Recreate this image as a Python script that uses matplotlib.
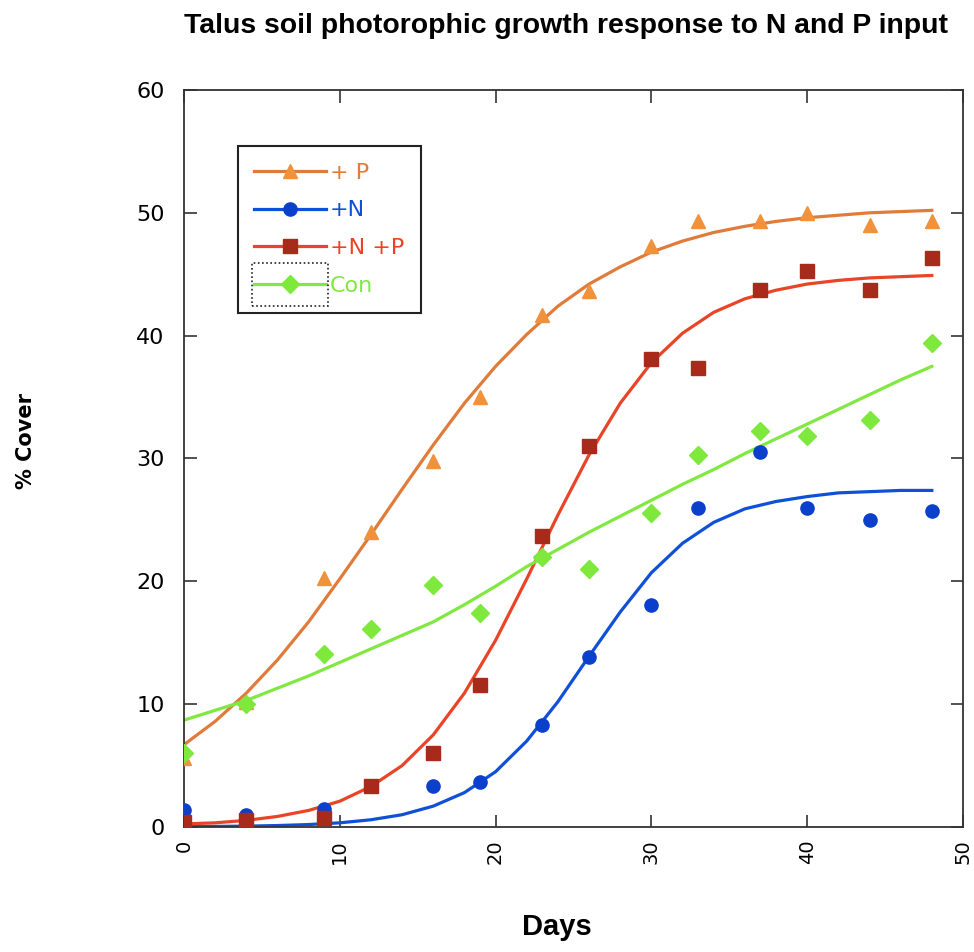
import matplotlib
matplotlib.use("Agg")
import matplotlib.pyplot as plt
from matplotlib.patches import Rectangle

# measured points (days, % cover)
days = [0, 4, 9, 12, 16, 19, 23, 26, 30, 33, 37, 40, 44, 48]
p_pts = [5.6, 10.2, 20.3, 24.0, 29.8, 35.0, 41.7, 43.6, 47.3, 49.3, 49.3, 50.0, 49.0, 49.3]
np_pts = [0.4, 0.6, 0.7, 3.3, 6.0, 11.6, 23.7, 31.0, 38.1, 37.4, 43.7, 45.3, 43.7, 46.3]
con_pts = [6.0, 10.0, 14.1, 16.1, 19.7, 17.4, 22.0, 21.0, 25.6, 30.3, 32.2, 31.8, 33.1, 39.4]
n_days = [0, 4, 9, 16, 19, 23, 26, 30, 33, 37, 40, 44, 48]
n_pts = [1.4, 1.0, 1.5, 3.3, 3.7, 8.3, 13.8, 18.1, 26.0, 30.5, 26.0, 25.0, 25.7]

fit_days = [0, 2, 4, 6, 8, 10, 12, 14, 16, 18, 20, 22, 24,
            26, 28, 30, 32, 34, 36, 38, 40, 42, 44, 46, 48]
p_fit = [6.7, 8.6, 10.9, 13.6, 16.7, 20.2, 23.8, 27.5, 31.1, 34.5, 37.5, 40.1, 42.4,
         44.2, 45.6, 46.8, 47.7, 48.4, 48.9, 49.3, 49.6, 49.8, 50.0, 50.1, 50.2]
n_fit = [0.05, 0.05, 0.07, 0.12, 0.2, 0.34, 0.59, 1.0, 1.7, 2.8, 4.5, 7.0, 10.2,
         13.9, 17.5, 20.7, 23.1, 24.8, 25.9, 26.5, 26.9, 27.2, 27.3, 27.4, 27.4]
np_fit = [0.25, 0.34, 0.54, 0.86, 1.35, 2.1, 3.3, 5.0, 7.5, 10.9, 15.2, 20.2, 25.4,
          30.3, 34.5, 37.8, 40.2, 41.9, 43.0, 43.7, 44.2, 44.5, 44.7, 44.8, 44.9]
con_fit = [8.7, 9.5, 10.3, 11.3, 12.3, 13.4, 14.5, 15.6, 16.7, 18.1, 19.6, 21.2, 22.6,
           24.0, 25.3, 26.6, 27.9, 29.1, 30.4, 31.6, 32.8, 34.0, 35.2, 36.4, 37.5]

series = [
    ("+ P", fit_days, p_fit, days, p_pts, "#e07b39", "#f0923c", "^", 10),
    ("+N", fit_days, n_fit, n_days, n_pts, "#1050d8", "#0a40cc", "o", 9.5),
    ("+N +P", fit_days, np_fit, days, np_pts, "#ea4428", "#a82a1a", "s", 10),
    ("Con", fit_days, con_fit, days, con_pts, "#80e840", "#7ee83c", "D", 9),
]

plt.rcParams["font.family"] = ["DejaVu Sans"]
ARIAL = ["Liberation Sans", "DejaVu Sans"]

fig = plt.figure(figsize=(9.74, 9.52), dpi=100)
ax = fig.add_axes([0.1889, 0.1313, 0.7998, 0.7742])

handles = []
for label, fx, fy, px, py, lc, mc, mk, ms in series:
    ax.plot(fx, fy, color=lc, lw=2.3, zorder=2)
    ax.plot(px, py, ls="none", marker=mk, ms=ms, color=mc, mec=mc, zorder=3)
    h, = ax.plot([], [], color=lc, lw=2.3, marker=mk, ms=ms, mfc=mc, mec=mc)
    handles.append(h)

ax.set_xlim(0, 50)
ax.set_ylim(0, 60)
ax.set_xticks(range(0, 51, 10))
ax.set_yticks(range(0, 61, 10))
ax.tick_params(direction="in", length=9, width=1.2, top=True, right=True,
               color="#333333", labelsize=16)
ax.tick_params(axis="y", pad=14)
ax.tick_params(axis="x", pad=9, labelrotation=90, labelsize=14)
for s in ax.spines.values():
    s.set_linewidth(1.3)
    s.set_color("#333333")

leg = ax.legend(handles, [s[0] for s in series], loc="upper left",
                bbox_to_anchor=(0.069, 0.924), borderaxespad=0, fontsize=16,
                handlelength=3.2, handletextpad=0.2, labelspacing=0.8,
                borderpad=0.75, fancybox=False, framealpha=1, edgecolor="#222222")
leg.get_frame().set_linewidth(1.5)
for txt, s in zip(leg.get_texts(), series):
    txt.set_color(s[5])

ax.set_ylabel("% Cover", fontsize=15, fontweight="bold")
ax.yaxis.set_label_coords(-0.19, 0.524)
ax.set_xlabel("Days", fontsize=21, fontweight="bold", family=ARIAL)
ax.xaxis.set_label_coords(0.479, -0.117)
fig.text(0.581, 0.973, "Talus soil photorophic growth response to N and P input",
         ha="center", va="center", fontsize=20.4, fontweight="bold", family=ARIAL)

# dotted selection box around the Con legend key
fig.canvas.draw()
r = fig.canvas.get_renderer()
bb = leg.legend_handles[3].get_window_extent(r)
bb = bb.transformed(fig.transFigure.inverted())
padx, pady = -0.004, 0.016
fig.add_artist(Rectangle((bb.x0 - padx, bb.y0 - pady), bb.width + 2 * padx,
                         bb.height + 2 * pady, transform=fig.transFigure,
                         fill=False, ls=(0, (1, 1.5)), lw=1.2, ec="#222222"))

fig.savefig("out.png", dpi=100)
